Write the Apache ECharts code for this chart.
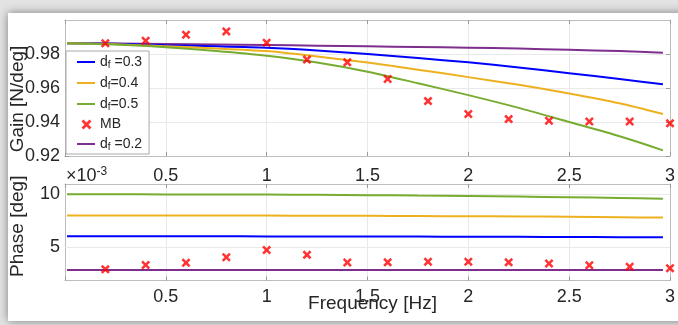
<!DOCTYPE html>
<html>
<head>
<meta charset="utf-8">
<script src="https://cdn.jsdelivr.net/npm/echarts@6/dist/echarts.min.js"></script>
<style>
  html, body { margin: 0; padding: 0; background: #ffffff; }
  #chart { width: 678px; height: 325px; }
</style>
</head>
<body>
<div id="chart"></div>
<script>
// Frequency samples [Hz] for the model curves
const freqModel = [0.01, 0.25, 0.5, 0.75, 1.0, 1.25, 1.5, 1.75, 2.0, 2.25, 2.5, 2.75, 2.965];
// Gain [N/deg] of the model for each damping factor
const gainDf03 = [0.9863, 0.9860, 0.9851, 0.9845, 0.9837, 0.9821, 0.9800, 0.9776, 0.9751, 0.9721, 0.9687, 0.9653, 0.9622];
const gainDf04 = [0.9863, 0.9858, 0.9845, 0.9833, 0.9817, 0.9785, 0.9750, 0.9708, 0.9664, 0.9619, 0.9568, 0.9510, 0.9447];
const gainDf05 = [0.9863, 0.9856, 0.9840, 0.9818, 0.9790, 0.9750, 0.9696, 0.9628, 0.9558, 0.9483, 0.9400, 0.9316, 0.9233];
const gainDf02 = [0.9863, 0.9862, 0.9859, 0.9856, 0.9853, 0.9849, 0.9845, 0.9841, 0.9837, 0.9832, 0.9825, 0.9817, 0.9808];
// Phase [deg] of the model for each damping factor
const phaseDf03 = [6.04, 6.04, 6.04, 6.04, 6.03, 6.03, 6.02, 6.01, 6.00, 5.99, 5.97, 5.96, 5.94];
const phaseDf04 = [8.00, 8.00, 8.00, 7.99, 7.99, 7.98, 7.97, 7.95, 7.93, 7.91, 7.88, 7.84, 7.80];
const phaseDf05 = [10.00, 10.00, 9.99, 9.98, 9.97, 9.95, 9.92, 9.88, 9.84, 9.78, 9.72, 9.65, 9.58];
const phaseDf02 = [2.86, 2.86, 2.86, 2.86, 2.86, 2.86, 2.86, 2.86, 2.86, 2.86, 2.86, 2.86, 2.86];
// Measured (MB) points
const freqMB  = [0.2, 0.4, 0.6, 0.8, 1.0, 1.2, 1.4, 1.6, 1.8, 2.0, 2.2, 2.4, 2.6, 2.8, 3.0];
const gainMB  = [0.9863, 0.9878, 0.9913, 0.9933, 0.9866, 0.9767, 0.9751, 0.9653, 0.9523, 0.9447, 0.9417, 0.9407, 0.9403, 0.9403, 0.9392];
const phaseMB = [2.92, 3.33, 3.55, 4.06, 4.75, 4.29, 3.57, 3.58, 3.64, 3.64, 3.58, 3.47, 3.31, 3.17, 3.03];
// Axis ticks
const freqTicks  = [0.5, 1, 1.5, 2, 2.5, 3];
const gainTicks  = [0.92, 0.94, 0.96, 0.98];
const phaseTicks = [5, 10];
// Legend entries in display order
const legendNames = ['d_f =0.3', 'd_f=0.4', 'd_f=0.5', 'MB', 'd_f =0.2'];

const FONT = '"Liberation Sans", Arial, Helvetica, sans-serif';
const TXT = '#262626';
const BORDER = '#bdbdbd';
const GRID = '#e9e9e9';
const COLORS = { df03: '#0000ff', df04: '#edb120', df05: '#77ac30', df02: '#7e2f8e', mb: '#ff0000' };
const CROSS = 'path://M2,0 L5,3 L8,0 L10,2 L7,5 L10,8 L8,10 L5,7 L2,10 L0,8 L3,5 L0,2 Z';
// Legend glyphs on an 18x14 box: a short stroke, and the cross marker
const BOX = 'M0,0 L0.01,0 L0,0.01 Z M18,14 L17.99,14 L18,13.99 Z ';
const LEGEND_LINE = 'path://' + BOX + 'M0,6 L18,6 L18,8 L0,8 Z';
const LEGEND_CROSS = 'path://' + BOX + 'M6.5,2.5 L9.5,5.5 L12.5,2.5 L14.5,4.5 L11.5,7.5 L14.5,10.5 L12.5,12.5 L9.5,9.5 L6.5,12.5 L4.5,10.5 L7.5,7.5 L4.5,4.5 Z';

const pairs = (xs, ys) => xs.map((x, i) => [x, ys[i]]);

function xAxisPair(gridIndex, labelMargin, extra) {
  const base = {
    type: 'value', gridIndex, min: 0, max: 3, interval: 0.5,
    axisLine: { show: true, onZero: false, lineStyle: { color: BORDER, width: 1 } },
    axisTick: { show: true, inside: true, length: 4, lineStyle: { color: '#9a9a9a' } }
  };
  return [
    Object.assign({}, base, {
      position: 'bottom',
      axisLabel: {
        margin: labelMargin, fontSize: 18, color: TXT, fontFamily: FONT,
        customValues: freqTicks,
        formatter: v => String(Math.round(v * 10) / 10)
      },
      splitLine: { show: true, lineStyle: { color: GRID, width: 1 } }
    }, extra || {}),
    Object.assign({}, base, {
      position: 'top',
      axisLabel: { show: false },
      splitLine: { show: false }
    })
  ];
}

function yAxisPair(gridIndex, min, max, ticks, name, namePad, withSplit) {
  const tickStyle = { show: true, inside: true, length: 4, customValues: ticks, lineStyle: { color: '#9a9a9a' } };
  const line = { show: true, onZero: false, lineStyle: { color: BORDER, width: 1 } };
  return [
    {
      type: 'value', gridIndex, min, max, position: 'left',
      interval: withSplit ? 0.02 : undefined,
      name, nameLocation: 'middle', nameGap: 38, nameMoveOverlap: false,
      nameTextStyle: { fontSize: 19, color: TXT, fontFamily: FONT, padding: namePad },
      axisLine: line, axisTick: tickStyle,
      axisLabel: {
        margin: 5, fontSize: 18, color: TXT, fontFamily: FONT, customValues: ticks,
        align: 'right',
        formatter: v => (max - min < 1 ? v.toFixed(2) : String(Math.round(v)))
      },
      splitLine: { show: withSplit, lineStyle: { color: GRID, width: 1 } }
    },
    {
      type: 'value', gridIndex, min, max, position: 'right',
      interval: withSplit ? 0.02 : undefined,
      axisLine: line, axisTick: tickStyle,
      axisLabel: { show: false }, splitLine: { show: false }
    }
  ];
}

function modelLine(name, color, xAxisIndex, yAxisIndex, values, extra) {
  return Object.assign({
    name, type: 'line', xAxisIndex, yAxisIndex,
    data: pairs(freqModel, values),
    smooth: 0.25, symbol: 'none', showSymbol: false,
    lineStyle: { color, width: 2 }, itemStyle: { color },
    z: 3, animation: false
  }, extra || {});
}

function mbSeries(xAxisIndex, yAxisIndex, values) {
  return {
    name: 'MB', type: 'scatter', xAxisIndex, yAxisIndex,
    data: pairs(freqMB, values),
    symbol: CROSS, symbolSize: 9, clip: false,
    itemStyle: { color: COLORS.mb }, z: 5, animation: false
  };
}

const chart = echarts.init(document.getElementById('chart'), null, { renderer: 'canvas' });

const option = {
  animation: false,
  backgroundColor: '#e3e3e3',
  textStyle: { fontFamily: FONT },
  graphic: [
    {
      type: 'rect', z: -10, silent: true,
      shape: { x: 8, y: 13, width: 690, height: 308 },
      style: { fill: '#ffffff', shadowBlur: 9, shadowColor: 'rgba(0,0,0,0.45)' }
    },
    {
      type: 'text', left: 66, top: 166, silent: true,
      style: {
        text: '{m|×10}{s|-3}',
        rich: {
          m: { fontSize: 18, fill: TXT, fontFamily: FONT },
          s: { fontSize: 12, fill: TXT, fontFamily: FONT, padding: [0, 0, 9, 0] }
        }
      }
    }
  ],
  grid: [
    { left: 65, right: 6, top: 20, height: 136, containLabel: false },
    { left: 65, right: 6, top: 184, height: 96.5, containLabel: false }
  ],
  xAxis: [
    ...xAxisPair(0, 11),
    ...xAxisPair(1, 8, {
      name: 'Frequency [Hz]', nameLocation: 'middle', nameGap: 14, nameMoveOverlap: false,
      nameTextStyle: { fontSize: 19, color: TXT, fontFamily: FONT, padding: [0, 0, 0, 10] }
    })
  ],
  yAxis: [
    ...yAxisPair(0, 0.92, 1.0, gainTicks, 'Gain [N/deg]', [0, 22, 0, 0], true),
    ...yAxisPair(1, 1.87, 10.97, phaseTicks, 'Phase [deg]', [0, 0, 0, 12], false)
  ],
  legend: {
    data: legendNames.map(n => ({ name: n, icon: n === 'MB' ? LEGEND_CROSS : LEGEND_LINE })),
    orient: 'vertical',
    left: 66, top: 51,
    padding: [3, 7, 2, 11],
    itemWidth: 18, itemHeight: 14, itemGap: 5,
    backgroundColor: '#ffffff',
    borderColor: '#a8a8a8', borderWidth: 1, borderRadius: 0,
    selectedMode: false,
    textStyle: {
      color: TXT, fontSize: 14, fontFamily: FONT,
      rich: {
        a: { fontSize: 14, lineHeight: 16, color: TXT, fontFamily: FONT, verticalAlign: 'middle' },
        b: { fontSize: 10, lineHeight: 10, color: TXT, fontFamily: FONT, verticalAlign: 'middle', padding: [6, 0, 0, 0] }
      }
    },
    formatter: name => name.startsWith('d_f')
      ? '{a|d}{b|f}{a|' + name.slice(3) + '}'
      : '{a|' + name + '}'
  },
  series: [
    // gain panel
    modelLine('d_f =0.2', COLORS.df02, 0, 0, gainDf02),
    modelLine('d_f =0.3', COLORS.df03, 0, 0, gainDf03),
    modelLine('d_f=0.4', COLORS.df04, 0, 0, gainDf04),
    modelLine('d_f=0.5', COLORS.df05, 0, 0, gainDf05),
    mbSeries(0, 0, gainMB),
    // phase panel
    modelLine('d_f =0.2', COLORS.df02, 2, 2, phaseDf02, {
      markLine: {
        silent: true, symbol: 'none', label: { show: false }, z: 1,
        lineStyle: { color: GRID, width: 1, type: 'solid' },
        data: phaseTicks.map(v => ({ yAxis: v }))
      }
    }),
    modelLine('d_f =0.3', COLORS.df03, 2, 2, phaseDf03),
    modelLine('d_f=0.4', COLORS.df04, 2, 2, phaseDf04),
    modelLine('d_f=0.5', COLORS.df05, 2, 2, phaseDf05),
    mbSeries(2, 2, phaseMB)
  ]
};

chart.setOption(option);
</script>
</body>
</html>
